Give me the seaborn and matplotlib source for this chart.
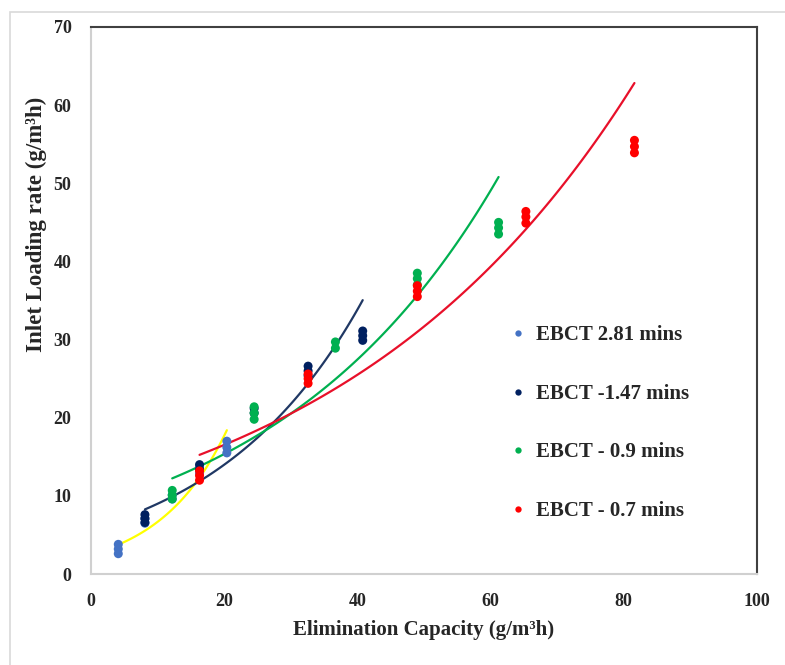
import numpy as np
import pandas as pd
import seaborn as sns
from matplotlib import pyplot as plt
from matplotlib.patches import Rectangle

# elimination capacity (x) and replicate inlet loading rates (y) per EBCT
ec_281 = [4.1, 4.1, 4.1, 8.1, 8.1, 12.2, 12.2, 16.3, 16.3, 20.4, 20.4, 20.4]
ilr_281 = [2.6, 3.2, 3.8, 6.5, 7.1, 9.6, 10.1, 12.9, 13.6, 15.5, 16.2, 17.0]

ec_147 = [8.1, 8.1, 8.1, 16.3, 16.3, 24.5, 24.5, 32.6, 32.6, 32.6, 40.8, 40.8, 40.8]
ilr_147 = [6.6, 7.1, 7.6, 13.4, 14.0, 20.6, 21.2, 25.4, 26.0, 26.6, 29.9, 30.5, 31.1]

ec_09 = [12.2, 12.2, 12.2, 24.5, 24.5, 24.5, 36.7, 36.7, 49.0, 49.0, 49.0, 61.2, 61.2, 61.2]
ilr_09 = [9.6, 10.1, 10.7, 19.8, 20.6, 21.4, 28.9, 29.7, 37.0, 37.8, 38.5, 43.5, 44.3, 45.0]

ec_07 = [16.3, 16.3, 16.3, 32.6, 32.6, 32.6, 49.0, 49.0, 49.0, 65.3, 65.3, 65.3, 81.6, 81.6, 81.6]
ilr_07 = [12.0, 12.6, 13.2, 24.4, 25.0, 25.6, 35.5, 36.2, 36.9, 44.9, 45.7, 46.4, 53.9, 54.7, 55.5]

labels = ['EBCT 2.81 mins', 'EBCT -1.47 mins', 'EBCT - 0.9 mins', 'EBCT - 0.7 mins']
point_colors = ['#4472C4', '#002060', '#00B050', '#FF0000']
trend_colors = ['#FFFF00', '#203864', '#00B050', '#E8102A']

frames = []
for lab, xs, ys in zip(labels, [ec_281, ec_147, ec_09, ec_07], [ilr_281, ilr_147, ilr_09, ilr_07]):
	frames.append(pd.DataFrame({'EC': xs, 'ILR': ys, 'EBCT': lab}))
df = pd.concat(frames, ignore_index=True)

sns.set_style('white')
plt.rcParams['font.family'] = ['Liberation Serif', 'DejaVu Serif']
plt.rcParams['font.weight'] = 'bold'

fig = plt.figure(figsize=(7.85, 6.65), dpi=100)
ax = fig.add_axes([0.1159, 0.1368, 0.8484, 0.8226])

# outer chart-area border
fig.patches.append(Rectangle((10 / 785, -0.1), 1.2, 1 - 12 / 665 + 0.1, transform=fig.transFigure,
	fill=False, edgecolor='#d9d9d9', linewidth=1.2))

sns.scatterplot(data=df, x='EC', y='ILR', hue='EBCT', palette=point_colors, s=42,
	edgecolor='none', ax=ax, zorder=3, legend=True)

#exponential trend lines (Excel style: fit on ln y)
for lab, col in zip(labels, trend_colors):
	sub = df[df['EBCT'] == lab]
	b, lna = np.polyfit(sub['EC'], np.log(sub['ILR']), 1)
	xx = np.linspace(sub['EC'].min(), sub['EC'].max(), 100)
	ax.plot(xx, np.exp(lna) * np.exp(b * xx), color=col, linewidth=1.6, zorder=2)

ax.set_xlim(0, 100)
ax.set_ylim(0, 70)
ax.set_xticks(range(0, 101, 20))
ax.set_yticks(range(0, 71, 10))
ax.tick_params(labelsize=13, length=0, pad=14)
for t in ax.get_xticklabels() + ax.get_yticklabels():
	t.set_fontweight('bold')
ax.set_xlabel('Elimination Capacity (g/m³h)', fontsize=15, fontweight='bold', labelpad=7)
ax.set_ylabel('Inlet Loading rate (g/m³h)', fontsize=16.5, fontweight='bold')
ax.yaxis.set_label_coords(-0.066, 0.64)

for side in ['top', 'right']:
	ax.spines[side].set_color('#404040')
	ax.spines[side].set_linewidth(1.5)
for side in ['left', 'bottom']:
	ax.spines[side].set_color('#d0d0d0')
	ax.spines[side].set_linewidth(1.5)

leg = ax.legend(loc='upper left', bbox_to_anchor=(0.597, 0.47), frameon=False, fontsize=15,
	labelspacing=1.85, handletextpad=-0.1, markerscale=0.7, borderaxespad=0)
for t in leg.get_texts():
	t.set_fontweight('bold')

plt.savefig('out.png', dpi=100)
